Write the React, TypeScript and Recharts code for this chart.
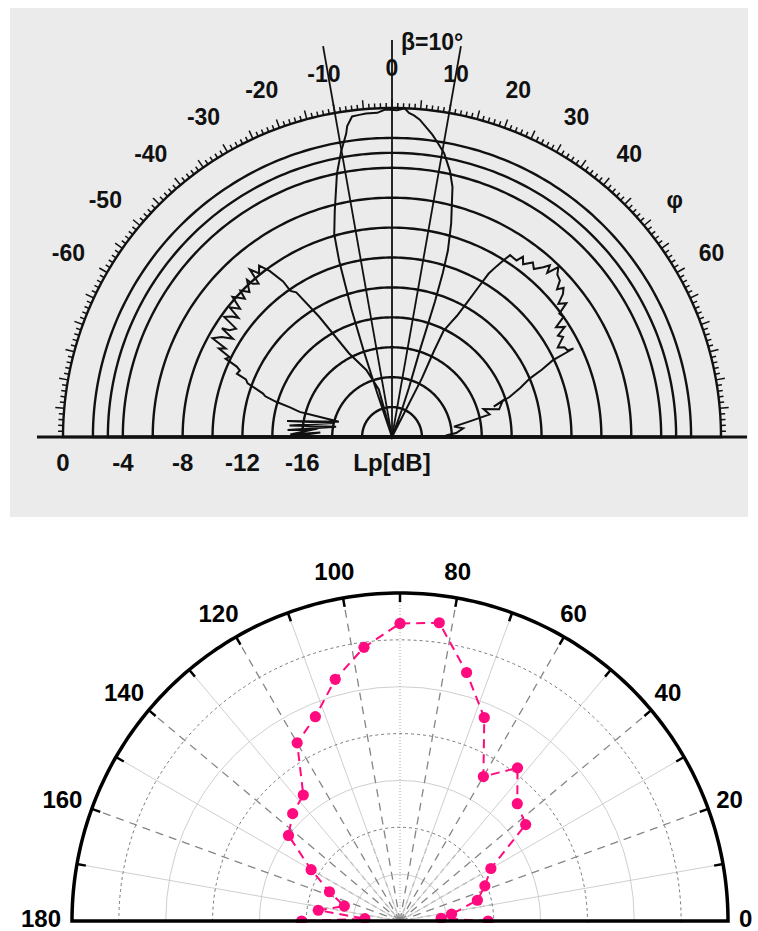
import {
  PolarAngleAxis,
  PolarGrid,
  PolarRadiusAxis,
  Radar,
  RadarChart,
} from "recharts";

const W = 758;
const INK = "#111";
const PINK = "#ff0a7f";
const FONT = "Arial, 'Liberation Sans', Helvetica, sans-serif";
const NO_MARGIN = { top: 0, right: 0, bottom: 0, left: 0 };
const RAD = Math.PI / 180;

// ---------- upper panel: scanned Lp(φ) plot, β = 10° ----------
const TOP = { cx: 392, cy: 437, r: 329, h: 517 };
const DB_MIN = -22;
const betaLines = [-10, 0, 10];
const ringDb = [-20, -18, -16, -14, -12, -10, -8, -6, -4, -3, -2, 0];
const dbLabels = [-16, -12, -8, -4, 0];
const phiLabels = [-60, -50, -40, -30, -20, -10, 0, 10, 20, 30, 40, 50, 60];

const mainPhi = [-18, -18.6, -18.2, -17.6, -16.7, -15.9, -14.2, -11.8, -10.1, -8.6, -8.2, -7.1, -5.8, -4.6, -2.6, -1.2, 0.9, 2.2, 3.0, 3.9, 5.0, 6.4, 7.6, 8.6, 10.4, 12.3, 13.6, 14.4, 15.5, 16.7, 17.2, 17.6, 17.8, 19.0, 20.0, 20.0];
const mainLp = [-22, -19.0, -16.0, -13.0, -9.7, -7.9, -6.4, -4.0, -2.6, -1.5, -1.0, -0.4, -0.35, -0.3, -0.3, -0.1, -0.15, 0, -0.3, -0.45, -0.7, -1.2, -1.6, -2.0, -2.7, -3.8, -4.8, -5.9, -7.2, -9.0, -10.5, -12.5, -15.9, -18.5, -20.1, -22];

const leftPhi = [-14, -15.5, -21.0, -27.2, -31.2, -33.5, -34.8, -35.0, -36.4, -37.8, -39.1, -40.3, -41.0, -42.3, -42.7, -44.5, -46.0, -46.8, -48.7, -49.8, -51.4, -52.2, -53.0, -54.4, -55.2, -56.7, -57.4, -58.3, -59.6, -61.2, -62.0, -62.9, -63.8, -64.8, -65.6, -66.4, -67.8, -68.5, -69.6, -70.4, -71.4, -72.2, -73.1, -73.8, -74.8, -74.5, -74.1, -73.9, -81.3, -76.5, -83.6, -79.5, -86.2, -83.5, -88.6, -86.5, -89.6, -89.4];
const leftLp = [-22, -18.7, -17.2, -15.7, -12.6, -10.4, -10.1, -9.3, -8.2, -7.5, -7.9, -7.3, -8.4, -8.15, -7.7, -8.4, -7.9, -8.5, -7.8, -8.7, -8.1, -9.0, -8.6, -8.2, -9.3, -9.0, -8.5, -9.5, -8.8, -8.3, -9.4, -9.0, -9.9, -9.7, -10.6, -10.9, -10.8, -11.5, -11.7, -12.3, -12.9, -13.1, -13.9, -14.9, -15.6, -16.8, -17.9, -18.3, -14.9, -18.0, -15.1, -18.2, -15.0, -17.0, -15.2, -17.2, -15.4, -17.5];

const rightPhi = [27.0, 26.0, 25.9, 27.2, 28.2, 29.3, 30.0, 30.6, 31.5, 32.3, 33.0, 35.2, 36.0, 37.2, 38.9, 40.2, 41.7, 42.6, 43.4, 44.4, 45.5, 47.0, 48.2, 49.0, 50.1, 51.3, 52.5, 53.6, 55.0, 56.2, 57.5, 58.6, 59.7, 61.6, 62.5, 63.8, 64.0, 64.5, 65.8, 67.0, 69.0, 71.2, 73.4, 71.8, 75.5, 73.0, 77.0, 78.5, 80.5, 83.0, 86.5, 88.5, 89.5];
const rightLp = [-17.6, -15.6, -14.1, -13.4, -12.8, -11.5, -10.4, -9.3, -8.6, -8.0, -7.5, -7.55, -7.1, -7.5, -7.0, -7.3, -6.8, -6.4, -6.9, -6.1, -6.5, -6.65, -7.2, -6.8, -7.1, -7.75, -7.3, -8.1, -8.0, -8.8, -8.3, -9.0, -8.75, -9.4, -9.0, -8.9, -8.5, -10.1, -11.0, -12.0, -12.8, -13.7, -14.9, -14.2, -14.6, -15.6, -15.3, -16.6, -17.8, -17.2, -17.7, -18.4, -17.9];

// ---------- lower panel: polar plot, pink dashed series ----------
const BOT = { cx: 400, cy: 401, r: 328, top: 520 };
const LEVEL_MAX = 70;
const angles = [0, 3.75, 7.5, 15, 22.5, 30, 37.5, 45, 52.5, 60, 67.5, 75, 82.5, 90, 97.5, 105, 112.5, 120, 127.5, 135, 142.5, 150, 157.5, 165, 172.5, 176.25, 180];
const levels = [18.8, 8.8, 11.1, 17.1, 19.6, 22.4, 33.8, 35.4, 41.2, 35.6, 47.0, 54.9, 64.2, 63.5, 58.9, 53.4, 47.2, 43.9, 33.9, 32.4, 30.0, 21.9, 16.3, 12.3, 17.6, 7.5, 21.0];
const angleLabels = [0, 20, 40, 60, 80, 100, 120, 140, 160, 180];
const angleTicks = [0, 10, 20, 30, 40, 50, 60, 70, 80, 90, 100, 110, 120, 130, 140, 150, 160, 170, 180];
const lightRings = [10, 30, 50];
const dashedRings = [20, 40, 60];
const lightSpokes = [10, 30, 50, 70, 110, 130, 150, 170];
const dashedSpokes = [20, 40, 60, 80, 100, 120, 140, 160];
const FAN_LEVEL = 20; // inner spokes are dashed up to this ring

// the lobes are joined through the pole (lp = DB_MIN), which sits on the baseline
const pole = { phi: 0, lp: DB_MIN };
const lobe = (phi: number[], lp: number[]) => phi.map((p, i) => ({ phi: p, lp: lp[i] }));
const topRows = [...lobe(mainPhi, mainLp), pole, ...lobe(leftPhi, leftLp), pole, ...lobe(rightPhi, rightLp), pole];
const bottomRows = angles.map((a, i) => ({ angle: a, level: levels[i] }));

const halfCircle = Array.from({ length: 181 }, (_, i) => i);
const phiTicks = Array.from({ length: 181 }, (_, i) => i - 90);
const dbPx = (d: number) => ((d - DB_MIN) / -DB_MIN) * TOP.r;
const levelPx = (v: number) => (v / LEVEL_MAX) * BOT.r;

function PhiTick(props: any) {
  const { payload } = props;
  const cx = props.cx ?? TOP.cx;
  const cy = props.cy ?? TOP.cy;
  const radius = props.radius ?? TOP.r;
  const v = Math.round(payload.value);
  const a = payload.coordinate * RAD;
  const ux = Math.cos(a);
  const uy = -Math.sin(a);
  const len = v % 5 === 0 ? 9 : 5;
  const text = phiLabels.includes(v) ? (v === 50 ? "φ" : String(v)) : null;
  const lr = radius + 40;
  return (
    <g>
      <line
        x1={cx + radius * ux}
        y1={cy + radius * uy}
        x2={cx + (radius + len) * ux}
        y2={cy + (radius + len) * uy}
        stroke={INK}
        strokeWidth={1.5}
      />
      {text && (
        <text
          x={cx + lr * ux + (v < 0 ? -4 : 0)}
          y={cy + lr * uy}
          textAnchor="middle"
          dominantBaseline="central"
          fontFamily={FONT}
          fontWeight="bold"
          fontSize={23}
          fill={INK}
        >
          {text}
        </text>
      )}
    </g>
  );
}

function DbTick(props: any) {
  const { x, y, payload, withUnit } = props;
  const v = Math.round(payload.value);
  const text = v === DB_MIN ? (withUnit ? "Lp[dB]" : null) : dbLabels.includes(v) ? String(v) : null;
  if (!text) return <g />;
  return (
    <text x={x} y={y + 25} textAnchor="middle" dominantBaseline="central" fontFamily={FONT} fontWeight="bold" fontSize={24} fill={INK}>
      {text}
    </text>
  );
}

function AngleTick(props: any) {
  const { payload } = props;
  const cx = props.cx ?? BOT.cx;
  const cy = props.cy ?? BOT.cy;
  const radius = props.radius ?? BOT.r;
  const v = Math.round(payload.value);
  const a = payload.coordinate * RAD;
  const ux = Math.cos(a);
  const uy = -Math.sin(a);
  let label = null;
  if (angleLabels.includes(v)) {
    const common = { dominantBaseline: "central" as const, fontFamily: FONT, fontWeight: "bold", fontSize: 24, fill: "#000" };
    if (v === 0) label = <text x={cx + radius + 11} y={cy - 3} textAnchor="start" {...common}>{v}</text>;
    else if (v === 180) label = <text x={cx - radius - 11} y={cy - 3} textAnchor="end" {...common}>{v}</text>;
    else label = <text x={cx + (radius + 27) * ux - 4} y={cy + (radius + 27) * uy} textAnchor="middle" {...common}>{v}</text>;
  }
  return (
    <g>
      {v !== 0 && v !== 180 && (
        <line x1={cx + radius * ux} y1={cy + radius * uy} x2={cx + (radius - 9) * ux} y2={cy + (radius - 9) * uy} stroke="#000" strokeWidth={2.5} />
      )}
      {label}
    </g>
  );
}

function PinkDot(props: any) {
  const { cx, cy } = props;
  if (!Number.isFinite(cx) || !Number.isFinite(cy)) return <g />;
  return <circle cx={cx} cy={cy} r={5.6} fill={PINK} stroke="none" />;
}

const layer = (top: number, h: number, clip = false) => ({
  position: "absolute" as const,
  left: 0,
  top,
  width: W,
  height: h,
  overflow: clip ? ("hidden" as const) : ("visible" as const),
});

export default function App() {
  return (
    <div style={{ position: "absolute", left: 0, top: 0, width: W, height: 931, background: "#fff" }}>
      {/* scanned panel background */}
      <div style={{ position: "absolute", left: 10, top: 8, width: 738, height: 509, background: "#ebebeb" }} />

      <div style={layer(0, TOP.h)}>
        <RadarChart width={W} height={TOP.h} data={topRows} cx={TOP.cx} cy={TOP.cy} outerRadius={TOP.r} startAngle={180} endAngle={0} margin={NO_MARGIN}>
          <PolarGrid gridType="polygon" polarAngles={halfCircle} polarRadius={ringDb.map(dbPx)} radialLines={false} stroke={INK} strokeWidth={2.4} />
          <PolarAngleAxis dataKey="phi" type="number" domain={[-90, 90]} ticks={phiTicks} tickCount={181} tick={(p: any) => <PhiTick {...p} />} tickLine={false} axisLine={false} />
          <PolarRadiusAxis angle={180} type="number" domain={[DB_MIN, 0]} ticks={[DB_MIN, ...dbLabels]} tickCount={12} tick={(p: any) => <DbTick {...p} withUnit />} axisLine={false} tickLine={false} />
          <Radar dataKey="lp" stroke={INK} strokeWidth={2} fill="none" fillOpacity={0} dot={false} isAnimationActive={false} />
        </RadarChart>
      </div>

      {/* right-hand dB labels */}
      <div style={layer(0, TOP.h)}>
        <RadarChart width={W} height={TOP.h} data={topRows} cx={TOP.cx} cy={TOP.cy} outerRadius={TOP.r} startAngle={180} endAngle={0} margin={NO_MARGIN}>
          <PolarAngleAxis dataKey="phi" type="number" domain={[-90, 90]} tick={false} tickLine={false} axisLine={false} />
          <PolarRadiusAxis angle={0} type="number" domain={[DB_MIN, 0]} ticks={dbLabels} tickCount={12} tick={(p: any) => <DbTick {...p} />} axisLine={false} tickLine={false} />
        </RadarChart>
      </div>

      {/* β reference lines */}
      <div style={layer(0, TOP.h)}>
        <RadarChart width={W} height={TOP.h} data={topRows} cx={TOP.cx} cy={TOP.cy} outerRadius={397} startAngle={180} endAngle={0} margin={NO_MARGIN}>
          <PolarGrid polarAngles={betaLines.map((b) => 90 - b)} polarRadius={[]} stroke={INK} strokeWidth={1.8} />
        </RadarChart>
      </div>

      {/* baseline */}
      <div style={layer(0, TOP.h)}>
        <RadarChart width={W} height={TOP.h} data={topRows} cx={TOP.cx} cy={TOP.cy} outerRadius={355} startAngle={180} endAngle={0} margin={NO_MARGIN}>
          <PolarGrid polarAngles={[0, 180]} polarRadius={[]} stroke={INK} strokeWidth={2.8} />
        </RadarChart>
      </div>

      <div style={{ position: "absolute", left: 401, top: 30, fontFamily: FONT, fontWeight: "bold", fontSize: 23, lineHeight: "24px", color: INK }}>
        β=10°
      </div>

      {/* lower panel: inner dashed spoke fan */}
      <div style={layer(BOT.top, BOT.cy + 2, true)}>
        <RadarChart width={W} height={BOT.cy + 2} data={bottomRows} cx={BOT.cx} cy={BOT.cy} outerRadius={levelPx(FAN_LEVEL)} startAngle={0} endAngle={180} margin={NO_MARGIN}>
          <PolarGrid polarAngles={lightSpokes} polarRadius={[]} stroke="#8a8a8a" strokeDasharray="5 4" strokeWidth={1.1} />
        </RadarChart>
      </div>

      {/* lower panel: grid + series, clipped at the baseline */}
      <div style={layer(BOT.top, BOT.cy + 2, true)}>
        <RadarChart width={W} height={BOT.cy + 2} data={bottomRows} cx={BOT.cx} cy={BOT.cy} outerRadius={BOT.r} startAngle={0} endAngle={180} margin={NO_MARGIN}>
          <PolarAngleAxis dataKey="angle" type="number" domain={[0, 180]} tick={false} tickLine={false} axisLine={false} />
          <PolarRadiusAxis type="number" domain={[0, LEVEL_MAX]} tick={false} axisLine={false} tickLine={false} />
          <PolarGrid gridType="circle" polarAngles={lightSpokes} polarRadius={lightRings.map(levelPx)} stroke="#cfcfcf" strokeWidth={1} />
          <PolarGrid gridType="circle" polarAngles={[90]} polarRadius={[]} stroke="#a8a8a8" strokeDasharray="1 2" strokeWidth={1} />
          <PolarGrid gridType="circle" polarAngles={[]} polarRadius={dashedRings.map(levelPx)} radialLines={false} stroke="#7a7a7a" strokeDasharray="3 3" strokeWidth={1} />
          <PolarGrid gridType="circle" polarAngles={dashedSpokes} polarRadius={[]} stroke="#858585" strokeDasharray="8 6" strokeWidth={1.3} />
          <Radar
            dataKey="level"
            stroke={PINK}
            strokeWidth={2}
            strokeDasharray="9 6"
            fill="none"
            fillOpacity={0}
            dot={(p: any) => <PinkDot key={`dot-${p.index}`} {...p} />}
            isAnimationActive={false}
          />
        </RadarChart>
      </div>

      {/* lower panel: frame, ticks, labels */}
      <div style={layer(BOT.top, 931 - BOT.top)}>
        <RadarChart width={W} height={931 - BOT.top} data={bottomRows} cx={BOT.cx} cy={BOT.cy} outerRadius={BOT.r} startAngle={0} endAngle={180} margin={NO_MARGIN}>
          <PolarGrid gridType="polygon" polarAngles={halfCircle} polarRadius={[BOT.r]} radialLines={false} stroke="#000" strokeWidth={3.5} />
          <PolarAngleAxis dataKey="angle" type="number" domain={[0, 180]} ticks={angleTicks} tickCount={19} tick={(p: any) => <AngleTick {...p} />} tickLine={false} axisLine={false} />
          <PolarRadiusAxis type="number" domain={[0, LEVEL_MAX]} tick={false} axisLine={false} tickLine={false} />
        </RadarChart>
      </div>
    </div>
  );
}
